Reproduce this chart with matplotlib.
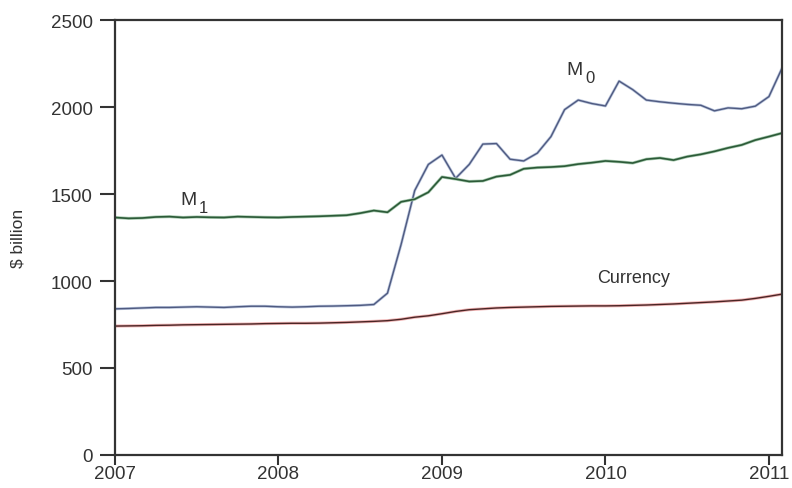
import matplotlib.pyplot as plt
import numpy as np

plt.rcParams['font.family'] = ['Liberation Sans', 'DejaVu Sans']

# monthly values, Jan 2007 .. Feb 2011 ($ billion)
m1 = [1365, 1360, 1362, 1368, 1370, 1365, 1368, 1366, 1365, 1370, 1368, 1366,
      1365, 1368, 1370, 1372, 1375, 1378, 1390, 1405, 1395, 1455, 1470, 1510,
      1598, 1586, 1572, 1575, 1600, 1610, 1645, 1652, 1655, 1660, 1672, 1680,
      1690, 1685, 1678, 1700, 1707, 1695, 1715, 1728, 1745, 1765, 1782, 1810,
      1830, 1851]
m0 = [840, 842, 845, 848, 848, 850, 852, 850, 848, 852, 855, 855,
      852, 850, 852, 855, 856, 858, 860, 865, 930, 1210, 1520, 1670,
      1724, 1590, 1670, 1787, 1790, 1700, 1690, 1735, 1830, 1985, 2040, 2020,
      2006, 2149, 2100, 2040, 2030, 2022, 2015, 2010, 1978, 1995, 1990, 2005,
      2060, 2230]
currency = [741, 742, 743, 745, 746, 748, 749, 750, 751, 752, 753, 755,
            756, 757, 757, 758, 760, 762, 765, 768, 772, 780, 792, 800,
            812, 825, 835, 840, 845, 848, 850, 852, 854, 855, 856, 857,
            857, 858, 860, 862, 865, 868, 872, 876, 880, 885, 890, 900,
            912, 925]
years = 2007 + np.arange(len(m0)) / 12.0

fig = plt.figure(figsize=(7.92, 4.89), dpi=100, facecolor="white")
ax = fig.add_axes([0.1452, 0.0675, 0.8422, 0.8895])

ax.plot(years, m0, color="#b8c4dc", lw=2.0)
ax.plot(years, m0, color="#4f5a80", lw=1.0)
ax.plot(years, m1, color="#a8cbb0", lw=2.2)
ax.plot(years, m1, color="#2c5a38", lw=1.2)
ax.plot(years, currency, color="#f0b4b4", lw=2.2)
ax.plot(years, currency, color="#4a2525", lw=1.0)

ax.set_xlim(2007, 2011.08)
ax.set_ylim(0, 2500)
ax.set_xticks([2007, 2008, 2009, 2010, 2011])
ax.set_yticks([0, 500, 1000, 1500, 2000, 2500])
ax.tick_params(axis="y", length=11, width=1.5, labelsize=13.5, colors="#333333", pad=5)
ax.tick_params(axis="x", length=7, width=1.5, labelsize=13.5, colors="#333333", pad=0)
for s in ax.spines.values():
    s.set_linewidth(1.6)
    s.set_color("#333333")

ax.set_ylabel("$ billion", fontsize=12.5, color="#333333", labelpad=18)

tkw = dict(color="#333333", va="center")
ax.text(2009.86, 2218, "M", fontsize=14, ha="right", **tkw)
ax.text(2009.875, 2170, "0", fontsize=12, ha="left", **tkw)
ax.text(2007.50, 1470, "M", fontsize=14, ha="right", **tkw)
ax.text(2007.515, 1422, "1", fontsize=12, ha="left", **tkw)
ax.text(2010.17, 1023, "Currency", fontsize=13, ha="center", **tkw)

fig.savefig("out.png", dpi=100)
